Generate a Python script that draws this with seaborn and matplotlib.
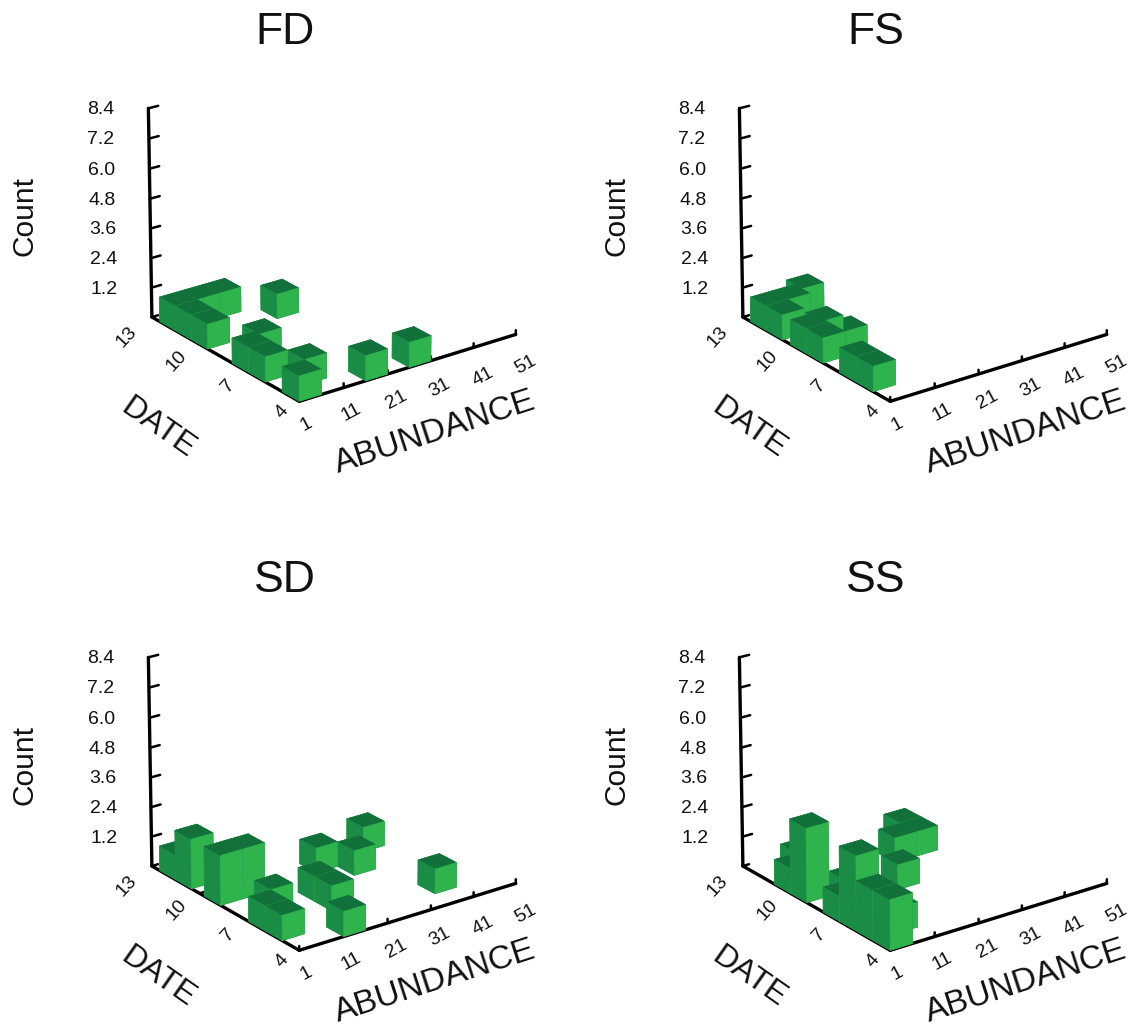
import numpy as np
import matplotlib
matplotlib.use('Agg')
import matplotlib.pyplot as plt
import seaborn as sns

sns.set_theme(style='white')
plt.rcParams['font.family'] = ['Liberation Sans', 'DejaVu Sans']

### DATA ###
# left edge of the abundance bin, left edge of the date bin, count
fd_abundance = [1, 6, 1, 1, 6, 1, 1, 1, 6, 11, 19.5, 16, 26]
fd_date = [4, 5, 6, 7, 7.7, 9.5, 10.5, 11.5, 11.5, 11.5, 10.2, 4, 4]
fd_count = [1, 1, 1, 1, 1, 1, 1, 1, 1, 1, 1, 1, 1]

fs_abundance = [1, 1, 1, 6, 1, 5, 11, 1, 1, 6]
fs_date = [5, 6, 8, 8, 9, 9.2, 12, 10.5, 11.5, 11.5]
fs_count = [1, 1, 1, 1, 1, 1, 1, 1, 1, 1]

sd_abundance = [1, 1, 6, 1, 6, 1, 1, 24, 29, 37, 11, 16, 16, 36]
sd_date = [5, 6, 7, 8.7, 8.7, 10.5, 11.5, 9, 8, 9.5, 4, 6, 7, 5]
sd_count = [1, 1, 1, 2, 2, 2, 1, 1, 1, 1, 1, 1, 1, 1]

ss_abundance = [1, 1, 1, 1, 6, 18, 25, 30, 30, 1, 1, 6, 6]
ss_date = [4, 5, 6, 7, 5, 8, 10, 10, 11, 9, 10, 11, 8]
ss_count = [2, 2, 3, 1, 1, 1, 1, 1, 1, 3, 1, 1, 1]

titles = ['FD', 'FS', 'SD', 'SS']
panels = [(fd_abundance, fd_date, fd_count),
          (fs_abundance, fs_date, fs_count),
          (sd_abundance, sd_date, sd_count),
          (ss_abundance, ss_date, ss_count)]

abundance_ticks = [1, 11, 21, 31, 41, 51]
date_ticks = [4, 7, 10, 13]
count_ticks = [1.2, 2.4, 3.6, 4.8, 6.0, 7.2, 8.4]

bin_abundance = 5
bin_date = 1

# faces in bar3d order: bottom, top, front(y-), back, left(x-), right
top_c = '#12703a'
left_c = '#1a8c46'
right_c = '#2eb34d'
face_colors = [left_c, top_c, right_c, right_c, left_c, left_c]
ink = '#111111'

W, H = 1136, 1027
fig = plt.figure(figsize=(W / 100, H / 100), dpi=100)

size = 520
offsets = [(0, 0), (591, 0), (0, 549), (591, 549)]

for (ox, oy), title, (ab, da, co) in zip(offsets, titles, panels):
    left = 66 + ox
    top = -31 + oy
    ax = fig.add_axes([left / W, 1 - (top + size) / H, size / W, size / H],
                      projection='3d', computed_zorder=False)
    ax.set_proj_type('persp', focal_length=1.6)
    ax.view_init(elev=22.5, azim=-126.5)
    ax.set_box_aspect((271, 255, 228), zoom=0.81)
    ax.set_xlim(1, 51)
    ax.set_ylim(4, 13)
    ax.set_zlim(0, 8.4)
    ax.set_axis_off()
    ax.patch.set_alpha(0)

    # axis lines
    kw = dict(color='black', lw=2.4, solid_capstyle='round', zorder=1, clip_on=False)
    ax.plot([1, 51], [4, 4], [0, 0], **kw)
    ax.plot([1, 1], [4, 13], [0, 0], **kw)
    ax.plot([1, 1], [13, 13], [0, 8.4], **kw)

    # ticks
    tk = dict(color='black', lw=1.8, zorder=1, clip_on=False)
    for t in abundance_ticks:
        ax.plot([t, t], [4, 4], [0, 0.17], **tk)
    for t in date_ticks:
        ax.plot([1, 2.4], [t, t], [0, 0], **tk)
    for t in count_ticks:
        ax.plot([1, 3.2], [13, 13], [t, t], **tk)

    # tick labels, the zdir tuple sets the on-screen angle
    for t in abundance_ticks:
        ax.text(t - 6, 2, 0.2 - (t - 1) * 0.0072, str(t), (1, 0, 0.04), fontsize=14,
                ha='center', va='center', color=ink)
    for t in date_ticks:
        ax.text(-8 + (13 - t) * 0.42, t - 0.91 + (13 - t) * 0.062, 0, str(t), (1, 0, 0.14),
                fontsize=14, ha='center', va='center', color=ink)
    for t in count_ticks:
        ax.text(-6.5, 13.9, t, '%.1f' % t, fontsize=14,
                ha='center', va='center', color=ink)

    # axis titles
    fig.text((435 + ox) / W, 1 - (433 + oy) / H, 'ABUNDANCE', fontsize=24, rotation=18,
             ha='center', va='center', color=ink)
    fig.text((158 + ox) / W, 1 - (428 + oy) / H, 'DATE', fontsize=23, rotation=-35,
             ha='center', va='center', color=ink)
    fig.text((25 + ox) / W, 1 - (216 + oy) / H, 'Count', fontsize=21.5, rotation=90,
             ha='center', va='center', color=ink)

    fig.text((285 + ox) / W, 1 - (32 + oy) / H, title, fontsize=32,
             ha='center', va='center', color=ink)

    # bars back to front
    order = sorted(zip(ab, da, co), key=lambda b: (-b[0], -b[1]))
    for i, (a, d, c) in enumerate(order):
        ax.bar3d(a, d, 0, bin_abundance, bin_date, c, color=face_colors,
                 edgecolor=face_colors, linewidth=0.4, shade=False, zorder=2 + i)

fig.savefig('out.png', dpi=100)
